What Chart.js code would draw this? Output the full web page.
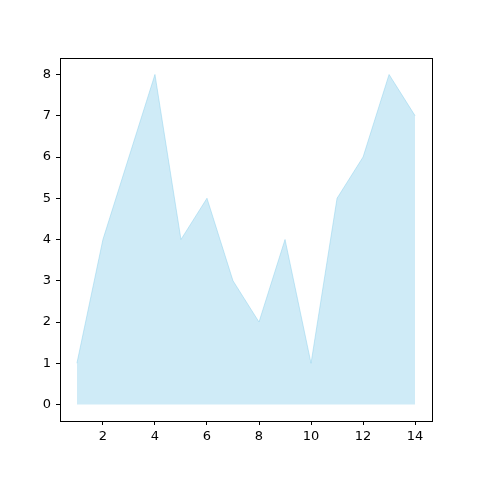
<!DOCTYPE html>
<html>
<head>
<meta charset="utf-8">
<script src="https://cdn.jsdelivr.net/npm/chart.js@4"></script>
<style>
  body { margin: 0; background: #fff; }
  #wrap { width: 480px; height: 480px; }
</style>
</head>
<body>
<div id="wrap"><canvas id="chart"></canvas></div>
<script>
// data
const xs = [1, 2, 3, 4, 5, 6, 7, 8, 9, 10, 11, 12, 13, 14];
const ys = [1, 4, 6, 8, 4, 5, 3, 2, 4, 1, 5, 6, 8, 7];
const xTicks = [2, 4, 6, 8, 10, 12, 14];
const yTicks = [0, 1, 2, 3, 4, 5, 6, 7, 8];

const points = xs.map(function (x, i) {
  return { x: x, y: ys[i] };
});

// black box round the plot area, like matplotlib spines
const frame = {
  id: "frame",
  afterDraw: function (chart) {
    const a = chart.chartArea;
    const ctx = chart.ctx;
    ctx.save();
    ctx.strokeStyle = "#000";
    ctx.lineWidth = 1;
    ctx.strokeRect(a.left + 0.5, a.top + 0.5, a.right - a.left, a.bottom - a.top);
    ctx.restore();
  }
};

const tickFont = { family: "DejaVu Sans", size: 13 };

new Chart(document.getElementById("chart"), {
  type: "line",
  data: {
    datasets: [
      {
        data: points,
        fill: "origin",
        backgroundColor: "rgba(135, 206, 235, 0.4)",
        borderColor: "rgba(135, 206, 235, 0.45)",
        borderWidth: 1,
        pointRadius: 0,
        tension: 0
      }
    ]
  },
  options: {
    responsive: true,
    maintainAspectRatio: false,
    animation: false,
    layout: { padding: { top: 58, right: 48, left: 0, bottom: 0 } },
    plugins: { legend: { display: false }, tooltip: { enabled: false } },
    scales: {
      x: {
        type: "linear",
        min: 0.35,
        max: 14.65,
        afterBuildTicks: function (axis) {
          axis.ticks = xTicks.map(function (v) { return { value: v }; });
        },
        afterFit: function (axis) { axis.height = 59; },
        grid: { drawOnChartArea: false, tickLength: 4, tickColor: "#000" },
        border: { display: false },
        ticks: { color: "#000", font: tickFont, padding: 4, maxRotation: 0 }
      },
      y: {
        min: -0.4,
        max: 8.4,
        afterBuildTicks: function (axis) {
          axis.ticks = yTicks.map(function (v) { return { value: v }; });
        },
        afterFit: function (axis) { axis.width = 60; },
        grid: { drawOnChartArea: false, tickLength: 4, tickColor: "#000" },
        border: { display: false },
        ticks: { color: "#000", font: tickFont, padding: 5 }
      }
    }
  },
  plugins: [frame]
});
</script>
</body>
</html>
